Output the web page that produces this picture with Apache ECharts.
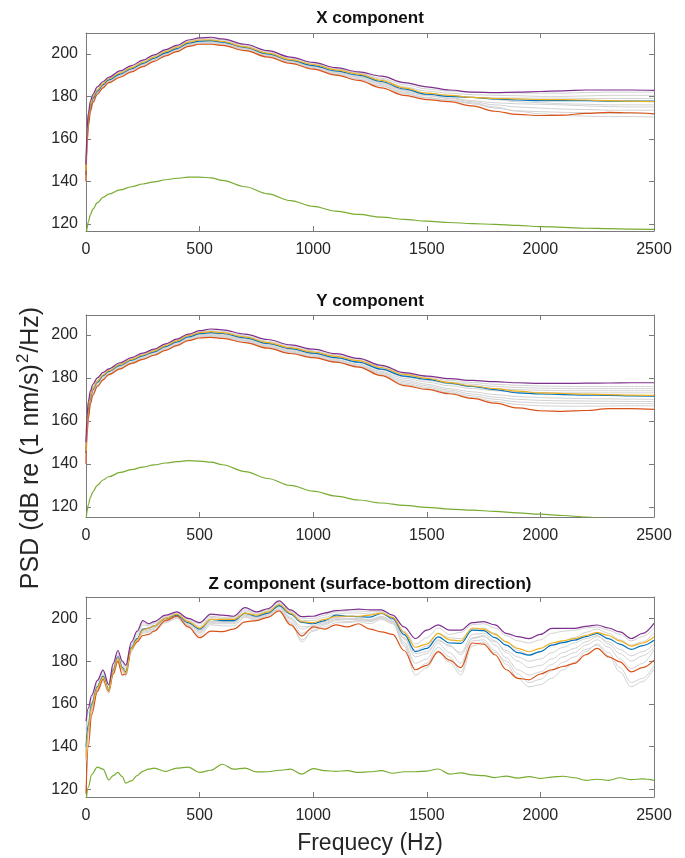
<!DOCTYPE html>
<html>
<head>
<meta charset="utf-8">
<script src="https://cdn.jsdelivr.net/npm/echarts@6/dist/echarts.min.js"></script>
<style>
  html, body { margin: 0; padding: 0; background: #fff; }
  #main { width: 685px; height: 858px; }
</style>
</head>
<body>
<div id="main"></div>
<script>
// frequency grids (Hz)
const freqXY = [0, 5, 10, 20, 30, 50, 75, 100, 150, 200, 250, 300, 350, 400, 450, 500, 550, 600, 700, 800, 900, 1000, 1100, 1200, 1300, 1400, 1500, 1600, 1700, 1800, 1900, 2000, 2100, 2200, 2300, 2400, 2500];
const freqZ = [0, 10, 25, 50, 75, 100, 120, 140, 160, 175, 200, 225, 250, 275, 300, 350, 400, 450, 500, 550, 600, 650, 700, 750, 800, 850, 900, 950, 1000, 1050, 1100, 1150, 1200, 1250, 1300, 1350, 1400, 1450, 1500, 1550, 1600, 1650, 1700, 1750, 1800, 1850, 1900, 1950, 2000, 2050, 2100, 2150, 2200, 2250, 2300, 2350, 2400, 2450, 2500];

const xTicks = [0, 500, 1000, 1500, 2000, 2500];
const yTicks = [120, 140, 160, 180, 200];

// X component
const purpleX = [148, 165, 172, 178, 181, 184.5, 187, 189, 192, 194.5, 197, 199.5, 202, 204, 206.5, 207.5, 207.8, 207, 204.5, 201.5, 198.5, 196, 193.5, 191.5, 189.5, 186.5, 184.5, 183, 182, 181.8, 182, 182.3, 182.6, 183, 183, 183, 182.8];
const blueX = [143, 161, 169, 175, 179, 182.5, 185.5, 187.8, 190.5, 193, 195.5, 198, 200.5, 202.5, 205, 206, 206.2, 205.5, 203, 200, 197, 194.5, 192, 190, 187, 183.5, 181, 180, 179.5, 178.8, 178.3, 178, 178, 178, 177.8, 177.8, 177.8];
const yellowX = [145, 162, 170, 176, 180, 183, 186, 188.3, 191, 193.5, 196, 198.5, 201, 203, 205.5, 206.5, 206.5, 205.8, 203.3, 200.3, 197.3, 195, 192.5, 190.5, 187.5, 184, 181.5, 180.5, 179.5, 179, 178.8, 178.5, 178.5, 178.3, 178, 177.8, 177.5];
const orangeX = [140, 158, 166, 173, 177, 181, 184, 186.5, 189, 191.5, 194, 196.5, 199, 201, 203.5, 204.5, 204.5, 204, 201.5, 198.5, 195.5, 192.8, 190, 187.5, 184, 180.5, 178.5, 177.5, 175.5, 173, 171.5, 171, 171.2, 172, 172.5, 172.3, 171.8];
const greenX = [113, 118, 121, 124.5, 127, 130, 132.5, 134, 136, 137.5, 138.8, 139.8, 140.8, 141.5, 142, 142, 141.7, 140.5, 137.5, 134.2, 131, 128.3, 126, 124.5, 123.2, 122.2, 121.3, 120.7, 120.2, 119.8, 119.3, 118.8, 118.4, 118, 117.8, 117.6, 117.5];
const grayX = [
  [146, 163, 171, 177, 180.5, 183.5, 186.5, 188.8, 191.5, 194, 196.5, 199, 201.5, 203.5, 206, 207, 207.2, 206.5, 204, 201, 198, 195.5, 193, 191, 188.5, 185.5, 183.5, 182.5, 182, 181.8, 181.6, 181.5, 181.5, 181.8, 182, 182, 182],
  [144, 161, 169.5, 175.5, 179.5, 183, 186, 188.3, 191, 193.5, 196, 198.5, 201, 203, 205.5, 206.5, 206.8, 206, 203.5, 200.5, 197.5, 195, 192.8, 190.8, 188, 184.5, 182.5, 181.5, 180.8, 180.5, 180.3, 180, 180, 180.2, 180.5, 180.5, 180.5],
  [142, 160, 168.5, 175, 179, 182.5, 185.5, 187.5, 190.5, 193, 195.5, 198, 200.5, 202.5, 205, 206, 206, 205.3, 202.8, 199.8, 196.8, 194.3, 191.8, 189.5, 186.5, 183, 181, 180, 179.5, 179.3, 179.2, 179.2, 179.2, 179, 179, 179, 179],
  [143, 160, 168, 174.5, 178.5, 182, 185, 187.2, 190, 192.5, 195, 197.5, 200, 202, 204.5, 205.5, 205.7, 205, 202.5, 199.5, 196.5, 194, 191.5, 189.5, 186.5, 183, 181.5, 180.5, 179.5, 178.5, 177.5, 177, 176.5, 176.3, 176, 176, 176],
  [141, 159, 167.5, 174, 178, 181.5, 184.5, 186.8, 189.8, 192.3, 194.8, 197.2, 199.7, 201.7, 204.2, 205.2, 205.3, 204.6, 202.2, 199.2, 196.2, 193.6, 191, 188.8, 185.6, 182, 180.3, 179.3, 178, 177, 176.5, 176.3, 176, 175.5, 175.2, 175, 175],
  [142, 159.5, 168, 174.2, 178.2, 181.8, 184.8, 187, 190, 192.5, 195, 197.5, 200, 202, 204.5, 205.5, 205.5, 204.8, 202.3, 199.3, 196.3, 193.7, 191.2, 189, 186, 182.5, 180.5, 179, 177.5, 176, 175, 174.5, 174, 173.8, 173.5, 173.5, 173.5],
  [141, 158.5, 167, 173.5, 177.5, 181.2, 184.3, 186.5, 189.3, 191.8, 194.3, 196.8, 199.3, 201.3, 203.8, 204.8, 204.9, 204.3, 201.9, 198.9, 195.9, 193.2, 190.5, 188.2, 185, 181.5, 179.5, 178.2, 176.5, 174.5, 173.2, 172.8, 172.5, 172.3, 172, 172, 171.8],
  [140, 158, 166.5, 173.2, 177.2, 181, 184, 186.3, 189.2, 191.7, 194.2, 196.7, 199.2, 201.2, 203.7, 204.7, 204.8, 204.2, 201.8, 198.8, 195.8, 193, 190.3, 188, 184.8, 181.2, 179.2, 178.3, 177, 175, 173, 171.8, 171, 170.7, 170.5, 170.5, 170.3]
];

// Y component
const purpleY = [150, 163, 169, 174, 177, 180, 182.5, 184.2, 187, 189.4, 191.5, 193.3, 195.8, 198, 200.3, 201.9, 202.7, 202.3, 200.3, 197.8, 195.3, 193.3, 191.2, 189, 185.8, 182.4, 180.8, 179.6, 178.8, 178.2, 177.7, 177.4, 177.4, 177.5, 177.6, 177.7, 177.7];
const blueY = [145, 158, 165, 171, 174.5, 178, 181, 183, 185.8, 188.2, 190.2, 192.1, 194.5, 196.7, 199, 200.5, 201, 200.6, 198.6, 196, 193.6, 191.5, 189.4, 187.3, 184, 180.8, 179.3, 177.5, 176, 174.5, 173, 172.5, 172.2, 172, 171.8, 171.6, 171.5];
const yellowY = [146, 159, 166, 171.5, 175, 178.5, 181.3, 183.3, 186.2, 188.6, 190.6, 192.5, 195, 197.2, 199.6, 201, 201.5, 201, 199, 196.4, 194, 192, 190, 188, 184.8, 181.6, 179.8, 177.8, 176.2, 175, 173.8, 173, 172.7, 172.4, 172.2, 172, 171.8];
const orangeY = [140, 154, 161, 168, 172, 176, 179, 181.5, 184.2, 186.7, 188.6, 190.5, 192.8, 195, 197.3, 198.5, 198.8, 198.3, 196.4, 193.8, 191.3, 189.4, 187.3, 185, 181, 176.4, 174.6, 172.6, 170.4, 168.2, 166, 164.7, 164.4, 164.8, 165.7, 165.7, 165.3];
const greenY = [113, 118, 121, 124.5, 127, 130, 132.5, 134, 136, 137.3, 138.5, 139.5, 140.4, 141, 141.5, 141.3, 140.8, 139.6, 136.4, 133.2, 130, 127.3, 125, 123.2, 121.8, 120.7, 119.8, 119, 118.5, 117.9, 117.2, 116.6, 116, 115.3, 114.6, 114, 113.4];
const grayY = [
  [148, 161, 167.5, 173, 176.3, 179.5, 182, 183.8, 186.6, 189, 191, 192.9, 195.4, 197.6, 199.9, 201.4, 202, 201.6, 199.6, 197, 194.6, 192.6, 190.6, 188.5, 185.3, 182, 180.2, 178.8, 177.8, 177, 176.5, 176.2, 176, 176, 176, 176, 176],
  [146, 159.5, 166, 171.8, 175.3, 178.7, 181.5, 183.5, 186.3, 188.7, 190.7, 192.6, 195, 197.2, 199.5, 201, 201.5, 201.1, 199.1, 196.5, 194.1, 192.1, 190, 187.8, 184.6, 181.3, 179.6, 178, 177, 176, 175.5, 175.2, 175, 175, 175, 175, 175],
  [145, 158, 165, 171, 174.6, 178, 180.8, 182.8, 185.6, 188, 190, 191.9, 194.3, 196.5, 198.8, 200.3, 200.8, 200.4, 198.4, 195.8, 193.4, 191.3, 189.2, 187, 183.7, 180.5, 178.8, 177.2, 176, 175, 174.5, 174.2, 174, 174, 174, 174, 174],
  [144, 157.5, 164.5, 170.5, 174, 177.5, 180.3, 182.4, 185.2, 187.6, 189.6, 191.5, 193.9, 196.1, 198.4, 199.9, 200.4, 200, 198, 195.4, 193, 190.8, 188.6, 186.3, 183, 179.8, 178, 176.3, 175, 174, 173.5, 173.2, 173, 173, 173, 173, 173],
  [143, 157, 164, 170, 173.6, 177.2, 180, 182, 184.8, 187.2, 189.2, 191.1, 193.5, 195.7, 198, 199.5, 200, 199.6, 197.6, 195, 192.5, 190.4, 188.2, 185.9, 182.5, 179, 177, 175, 173.5, 172.2, 171.3, 170.8, 170.5, 170.3, 170.2, 170.1, 170],
  [142, 156, 163, 169.3, 173, 176.7, 179.6, 181.7, 184.5, 186.9, 188.9, 190.8, 193.2, 195.4, 197.7, 199.2, 199.7, 199.3, 197.3, 194.7, 192.2, 190, 187.8, 185.5, 182, 178.3, 176.3, 174.3, 172.5, 171, 170, 169.5, 169.3, 169.2, 169.1, 169, 169],
  [141, 155, 162.5, 168.8, 172.5, 176.3, 179.3, 181.5, 184.3, 186.7, 188.7, 190.6, 193, 195.2, 197.5, 199, 199.4, 199, 197, 194.4, 191.9, 189.8, 187.6, 185.3, 181.6, 177.6, 175.6, 173.6, 171.6, 170, 168.8, 168.3, 168.2, 168.1, 168, 168, 168],
  [140, 154.5, 162, 168.4, 172.2, 176, 179, 181.2, 184, 186.5, 188.5, 190.4, 192.8, 195, 197.3, 198.8, 199.1, 198.7, 196.7, 194.1, 191.6, 189.6, 187.4, 185.1, 181.3, 177, 175, 173, 170.8, 169, 167.6, 167, 166.8, 166.8, 166.9, 167, 167]
];

// Z component
const purpleZ = [152, 158, 164, 171, 175.8, 169, 179, 185, 180, 178, 189, 194, 199, 197.5, 198.5, 201.5, 203, 200, 198, 202, 201.5, 201, 205, 203, 204.5, 208.2, 204, 200.8, 201, 202.5, 203.6, 204, 204.3, 204, 204, 201.5, 196, 190.6, 194.5, 197, 194.5, 194.5, 198, 198.5, 197, 193, 191.5, 190.5, 192.5, 195.3, 195.3, 195.3, 196.3, 196.9, 195.5, 193.7, 190.6, 193, 197.7];
const blueZ = [140, 150, 160, 168, 173, 166.5, 176, 182, 177, 175, 186.5, 190.5, 195, 195.5, 196.5, 200, 201.5, 198, 195, 199.5, 199, 199, 202.5, 201, 202.5, 206, 202, 198.1, 197.5, 199, 201.5, 201, 200.8, 200.6, 202.3, 200, 192.5, 184.5, 186, 191.4, 188.5, 188.3, 194.5, 194.3, 191, 187.5, 184, 182.8, 184.5, 187.5, 188.7, 189.8, 191.5, 193, 190.5, 188, 185.5, 187.3, 189.8];
const yellowZ = [135, 148, 159, 167.5, 172.5, 166, 175.5, 181.5, 176.5, 174.5, 186, 190, 194.5, 195.5, 196.5, 200, 202, 198.5, 195.5, 199.5, 199.5, 199.5, 202.5, 201.5, 203, 206.5, 202.5, 198.5, 198, 199.5, 201, 201, 201, 201.5, 202.5, 200.5, 193.5, 186.5, 188, 193, 190, 189.5, 195.5, 195, 192.5, 189, 186, 184.4, 186, 188.5, 189.5, 190.5, 192, 193.5, 192, 189.5, 187, 188.5, 191.4];
const orangeZ = [118, 140, 155, 166, 171.5, 166, 174, 180, 173.5, 174, 186, 189, 192, 192.5, 194, 199, 201, 196, 191, 194, 193.8, 195, 198.4, 199, 200.5, 203.5, 197, 191.8, 196, 195, 197, 196, 197.5, 195, 193.7, 192.5, 185, 176, 178, 184.5, 180.5, 177, 188.5, 188, 183, 176, 172, 171.3, 174, 176, 177.5, 179, 183, 186, 182, 179.7, 175, 177, 180.5];
const greenZ = [114, 121, 127, 130.5, 129.5, 124.5, 126.5, 128, 126, 123, 124, 126.5, 128.5, 129.5, 130, 128.5, 130, 130.5, 128, 129, 131.8, 129.5, 130, 128.2, 128.3, 129, 129.5, 127.2, 129.8, 128.8, 128.5, 128.8, 128, 128.3, 128.8, 127.6, 128.3, 128.3, 128.6, 129.6, 127.2, 127.8, 126.8, 126.5, 125.6, 126.3, 125.3, 126, 125.2, 125.8, 126.2, 125.5, 124.3, 124.8, 124.3, 125.5, 124.6, 125, 124.3];
const grayZ = [
  [148, 156, 163, 170, 175, 168.5, 178, 184, 179, 177, 188, 193, 198, 197, 198, 201, 202.5, 199.5, 197.5, 201, 200.5, 200.5, 204, 202.5, 204, 207.5, 203.5, 200, 200, 201.5, 203, 203.5, 203.5, 203, 203.5, 200.5, 194, 188, 191, 195.5, 192.5, 193.5, 197, 197.5, 195.5, 192, 189.5, 188.5, 190, 193, 194, 194.5, 195.5, 196, 194.5, 192.5, 189.5, 191.5, 195.5],
  [144, 152, 161, 169, 174, 167.5, 177, 183, 178, 176, 187.5, 192, 197, 196.5, 197.5, 200.5, 202, 199, 196.5, 200.5, 200, 200, 203.5, 202, 203.5, 207, 203, 199, 199, 200.5, 202, 202.5, 202.5, 202, 203, 199.5, 192, 185, 187, 193, 191, 190.5, 195, 195.5, 193, 189, 185, 183, 184.5, 187.5, 189.5, 191, 193.5, 195, 193, 190, 187.5, 189, 193.5],
  [138, 149, 159, 167, 172, 166, 175.5, 181, 176.5, 174.5, 186, 190.5, 194.5, 195, 196, 199.5, 201.5, 197.5, 194, 198.5, 198.5, 198.5, 202, 200.5, 202, 205.5, 200.5, 196, 196.5, 198.5, 200.5, 200, 200, 199.5, 201, 199, 190.5, 182, 183.5, 190, 187, 184, 192.5, 193, 189.5, 184, 180, 177, 178, 181, 184, 186, 189, 191.5, 189, 185.5, 182.5, 184.5, 188],
  [136, 148, 158, 166.5, 171.5, 166, 175, 180.5, 176, 174, 185.5, 190, 194, 194.5, 195.5, 199, 201, 197, 193.5, 198, 198, 198, 201.5, 200, 201.5, 205, 199.5, 193, 195.5, 197.5, 199.5, 199.5, 199.5, 199, 200.5, 198.5, 189, 179, 181, 188.5, 184, 179, 191, 192, 187.5, 181.5, 176, 173.5, 175, 178.5, 182, 184, 187.5, 190, 186.5, 181, 176.5, 179, 185.5],
  [134, 147, 157, 166, 171, 165.5, 174.5, 180, 175.5, 173.5, 185, 189.5, 193.5, 194, 195, 198.5, 200.5, 196.5, 193, 197.5, 197.5, 197.5, 201, 199.5, 201, 204.5, 198.5, 189, 194.5, 197, 199, 198.5, 199, 198.5, 200, 198, 188, 176, 179, 186.5, 182, 175, 189.5, 190, 185, 178.5, 172, 168, 169, 172, 176, 179.5, 184.5, 188, 184, 177, 170, 172, 178],
  [132, 146, 156.5, 165.5, 170.5, 165, 174, 179.5, 175, 173, 184.5, 189, 193, 193.5, 194.5, 198, 200, 196, 192, 197, 196.5, 196.5, 200.5, 199, 200.5, 204, 198, 190, 194, 196, 198, 198, 198.5, 197.5, 199.5, 197.5, 187, 173.5, 177, 184, 179.5, 173.5, 187, 189, 184, 180, 174, 170, 171.5, 175.5, 179.5, 182, 185.5, 187.5, 182.5, 175, 168, 170.5, 176.5],
  [137, 148.5, 158.5, 167, 172, 166.5, 175.5, 181, 176, 174, 185.5, 190, 194.5, 195, 196, 199.5, 201, 197.5, 194.5, 198.5, 198.5, 198.5, 202, 200.5, 202, 205.5, 200, 195, 196.5, 198, 200, 199.5, 199.5, 199, 200.5, 198.5, 191, 183.5, 184.5, 189.5, 187.5, 183, 190.5, 191.5, 189, 185, 182, 180, 181, 184, 186.5, 188.5, 190.5, 192, 188, 183.5, 180, 182.5, 186.5]
];

const titles = ['X component', 'Y component', 'Z component (surface-bottom direction)'];

const FONT = '"Liberation Sans", Arial, Helvetica, sans-serif';
const C_PURPLE = '#7E2F8E', C_BLUE = '#0072BD', C_YELLOW = '#EDB120', C_ORANGE = '#D95319', C_GREEN = '#77AC30', C_GRAY = '#d2d2d2';

// panel layout: top, height, y-range
const panels = [
  { top: 33, height: 198, min: 116.7, max: 209.8, freq: freqXY, gray: grayX, lines: [blueX, orangeX, yellowX, purpleX, greenX] },
  { top: 315, height: 202, min: 115.3, max: 209.2, freq: freqXY, gray: grayY, lines: [blueY, orangeY, yellowY, purpleY, greenY] },
  { top: 597, height: 200, min: 116.5, max: 210, freq: freqZ, gray: grayZ, lines: [blueZ, orangeZ, yellowZ, purpleZ, greenZ] }
];
const lineColors = [C_BLUE, C_ORANGE, C_YELLOW, C_PURPLE, C_GREEN];

const chart = echarts.init(document.getElementById('main'), null, { renderer: 'canvas' });

const grids = [], xAxes = [], yAxes = [], series = [], graphics = [];
const axisCol = '#7a7a7a';

panels.forEach(function (p, k) {
  grids.push({ left: 86, width: 568, top: p.top, height: p.height, show: false });

  const xBase = {
    type: 'value', gridIndex: k, min: 0, max: 2500, interval: 500,
    axisLine: { show: true, onZero: false, lineStyle: { color: axisCol, width: 1 } },
    axisTick: { show: true, inside: true, length: 5, customValues: xTicks, lineStyle: { color: axisCol } },
    splitLine: { show: false }
  };
  xAxes.push(Object.assign({}, xBase, {
    position: 'bottom',
    axisLabel: {
      show: true, customValues: xTicks, color: '#262626', fontSize: 16, fontFamily: FONT, margin: 11,
      formatter: function (v) { return String(v); }
    }
  }));
  xAxes.push(Object.assign({}, xBase, { position: 'top', axisLabel: { show: false } }));

  const yBase = {
    type: 'value', gridIndex: k, min: p.min, max: p.max,
    axisLine: { show: true, onZero: false, lineStyle: { color: axisCol, width: 1 } },
    axisTick: { show: true, inside: true, length: 5, customValues: yTicks, lineStyle: { color: axisCol } },
    splitLine: { show: false }
  };
  yAxes.push(Object.assign({}, yBase, {
    position: 'left',
    axisLabel: { show: true, customValues: yTicks, color: '#262626', fontSize: 16, fontFamily: FONT, margin: 8 }
  }));
  yAxes.push(Object.assign({}, yBase, { position: 'right', axisLabel: { show: false } }));

  function addLine(vals, color, width, z) {
    series.push({
      type: 'line', xAxisIndex: 2 * k, yAxisIndex: 2 * k,
      data: p.freq.map(function (f, i) { return [f, vals[i]]; }),
      showSymbol: false, symbol: 'none', smooth: 0.35, smoothMonotone: 'x',
      lineStyle: { color: color, width: width }, silent: true, animation: false, z: z
    });
  }
  p.gray.forEach(function (g) { addLine(g, C_GRAY, 1, 2); });
  p.lines.forEach(function (v, i) { addLine(v, lineColors[i], 1.2, 3); });

  graphics.push({
    type: 'text', x: 370, y: [18, 301, 584][k],
    style: { text: titles[k], font: 'bold 17px ' + FONT, fill: '#111', align: 'center', verticalAlign: 'middle' }
  });
});

graphics.push({
  type: 'text', x: 370, y: 844,
  style: { text: 'Frequecy (Hz)', font: '23px ' + FONT, fill: '#262626', align: 'center', verticalAlign: 'middle' }
});
graphics.push({
  type: 'text', x: 31, y: 448, rotation: Math.PI / 2,
  style: {
    text: '{a|PSD (dB re (1 nm/s)}{s|2}{a|/Hz)}',
    align: 'center', verticalAlign: 'middle',
    rich: {
      a: { font: '25px ' + FONT, fill: '#262626', lineHeight: 32 },
      s: { font: '17px ' + FONT, fill: '#262626', lineHeight: 32, verticalAlign: 'top', padding: [0, 1, 0, 1] }
    }
  }
});

chart.setOption({
  animation: false,
  backgroundColor: '#fff',
  grid: grids,
  xAxis: xAxes,
  yAxis: yAxes,
  series: series,
  graphic: graphics
});
</script>
</body>
</html>
